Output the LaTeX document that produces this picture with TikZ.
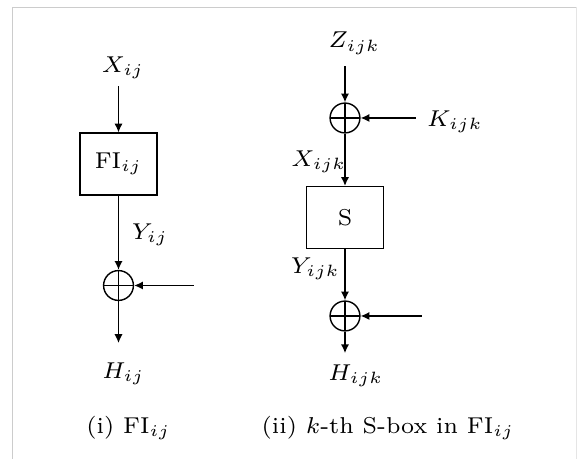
\documentclass[tikz,border=0pt]{standalone}
\usetikzlibrary{arrows.meta}

\definecolor{framegray}{gray}{0.8}

\begin{document}
\begin{tikzpicture}[x=3.05pt,y=3.05pt,>={Latex[length=2.7pt,width=2.5pt]},font=\scriptsize,line width=0.43pt,
  blk/.style={draw,minimum width=23.5pt,minimum height=18.8pt},
  xor/.style={circle,draw,minimum size=9.1pt,inner sep=0pt,
    path picture={\draw (path picture bounding box.north) -- (path picture bounding box.south)
      (path picture bounding box.west) -- (path picture bounding box.east);}}]
  \useasboundingbox (0,0) rectangle (57.7,45.9);
  \draw[framegray,line width=0.6pt] (1.25,0) -- (1.25,45.15) -- (57.7,45.15);
  \draw[framegray!50,line width=0.3pt] (57.6,45.15) -- (57.6,0);

  % (i) FI_ij
  \node (X1) at (12.3,39.15) {$X_{ij}$};
  \node[blk] (F1) at (11.85,29.5) {FI$_{ij}$};
  \node (Y1) at (15.0,22.45) {$Y_{ij}$};
  \node[xor] (xor1) at (11.85,17.35) {};
  \coordinate (in1) at (19.4,17.35);
  \node (H1) at (12.35,8.5) {$H_{ij}$};
  \node (cap1) at (12.85,3.1) {(i) FI$_{ij}$};

  \draw[->,shorten <=-1.2pt] (X1.south -| F1) -- (F1);
  \draw[->] (F1) -- (xor1);
  \draw[->] (in1) -- (xor1);
  \draw[->,shorten >=2.5pt] (xor1) -- (H1.north -| xor1);

  % (ii) k-th S-box
  \node (Z) at (35.45,41.55) {$Z_{ijk}$};
  \node[xor] (xor2) at (34.5,34.1) {};
  \node (K) at (45.5,33.7) {$K_{ijk}$};
  \node (Xk) at (31.9,29.7) {$X_{ijk}$};
  \node[blk] (S) at (34.5,24.15) {S};
  \node (Yk) at (31.55,19.0) {$Y_{ijk}$};
  \node[xor] (xor3) at (34.5,14.3) {};
  \coordinate (in3) at (42.2,14.3);
  \node (Hk) at (35.6,8.3) {$H_{ijk}$};
  \node (cap2) at (38.8,3.1) {(ii) $k$-th S-box in FI$_{ij}$};

  \draw[->] (Z.south -| xor2) -- (xor2);
  \draw[->] (K.west |- xor2) -- (xor2);
  \draw[->] (xor2) -- (S);
  \draw[->] (S) -- (xor3);
  \draw[->] (in3) -- (xor3);
  \draw[->] (xor3) -- (Hk.north -| xor3);
\end{tikzpicture}
\end{document}
